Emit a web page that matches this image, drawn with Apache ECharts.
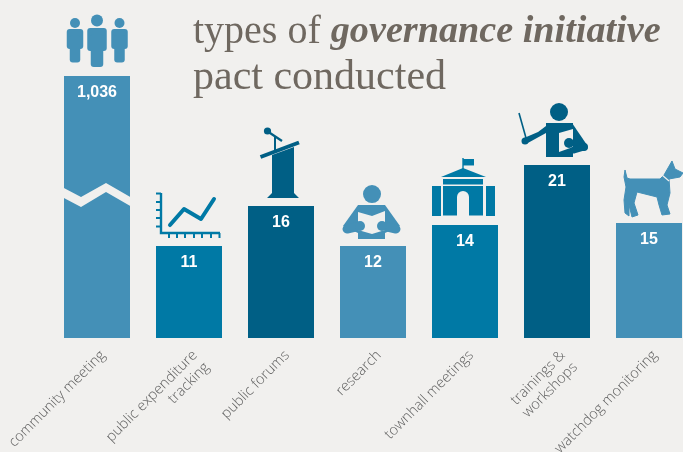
<!DOCTYPE html>
<html>
<head>
<meta charset="utf-8">
<style>html,body{margin:0;padding:0;background:#F1F0EE}#c{width:683px;height:452px}</style>
<script src="https://cdn.jsdelivr.net/npm/echarts@6/dist/echarts.min.js"></script>
</head>
<body>
<div id="c"></div>
<script>
const categories = ['community meeting','public expenditure\ntracking','public forums','research','townhall meetings','trainings &\nworkshops','watchdog monitoring'];
const valueLabels = ['1,036','11','16','12','14','21','15'];
// Heights as drawn in the picture (the first bar is cut by a break, so it is not to scale)
const drawnHeights = [31.76, 11.15, 16, 11.15, 13.7, 20.97, 13.94];
const barColors = ['#4490B7','#0079A5','#005F85','#4490B7','#0079A5','#005F85','#4490B7'];

const BG = '#F1F0EE';
const line = (pts, w, c) => ({type:'polyline', shape:{points:pts}, style:{stroke:c, lineWidth:w, lineCap:'round', lineJoin:'round', fill:null}});
const butt = (pts, w, c) => ({type:'polyline', shape:{points:pts}, style:{stroke:c, lineWidth:w, fill:null}});
const poly = (pts, c) => ({type:'polygon', shape:{points:pts}, style:{fill:c}});
const circ = (cx, cy, r, c) => ({type:'circle', shape:{cx, cy, r}, style:{fill:c}});
const rect = (x, y, w, h, c, r) => ({type:'rect', shape:{x, y, width:w, height:h, r:r||0}, style:{fill:c}});

function person(cx, headY, headR, bodyTop, bodyW, bodyBottom, legW, legBottom, c) {
  return [
    circ(cx, headY, headR, c),
    rect(cx-bodyW/2, bodyTop, bodyW, bodyBottom-bodyTop, c, 3),
    rect(cx-legW/2, bodyTop+6, legW, legBottom-bodyTop-6, c, 3)
  ];
}
// Icon artwork, each with the point of the bar (top centre) it hangs from
const icons = [
  {origin:[97,76], draw:c => [].concat(
    person(75,23,5,29,16.5,49,10.5,62.5,c),
    person(97,20.5,6,28,19.5,51,12.5,67,c),
    person(119.5,23,5,29,16.5,49,10.5,62.5,c),
    [poly([[62,187],[81,197],[106,183],[132,198],[132,207],[106,192],[81,207],[62,197]],BG)]
  )},
  {origin:[189,246], draw:c => {
    const parts = [butt([[161,193],[161,233],[220,233]],2.4,c)];
    [193.5,202,210,218,226.5].forEach(y => parts.push(butt([[156,y],[161,y]],2,c)));
    [169,177,185,194,202,211,219.5].forEach(x => parts.push(butt([[x,233],[x,238]],2,c)));
    parts.push(line([[170,225],[184,209],[201,219],[214,199]],4,c));
    return parts;
  }},
  {origin:[281,206], draw:c => [
    circ(267.5,131,3.6,c),
    butt([[267,131],[282,141]],2.2,c),
    butt([[275,136],[275,150]],2,c),
    butt([[260.5,157],[299,142.5]],4,c),
    poly([[272,155],[294,147],[294,193],[299,198],[267,198],[272,193]],c)
  ]},
  {origin:[373,246], draw:c => [
    circ(372,194,9,c),
    rect(358,205,27,34,c),
    poly([[358,205],[385,205],[400,226],[385,233],[358,233],[343,226]],c),
    line([[347,229],[360,226]],9,c),
    line([[396,229],[383,226]],9,c),
    poly([[358,212],[372,216],[385,211],[385,230],[372,234],[358,230]],BG),
    circ(360,226,5,c),
    circ(382,226,5,c)
  ]},
  {origin:[465,225], draw:c => [
    butt([[463,158],[463,170]],1.4,c),
    rect(463,159,11,6.5,c),
    poly([[441,177],[463,168],[486,177]],c),
    rect(443,179,40,5.5,c),
    rect(432,186,9,30,c),
    rect(486,186,9,30,c),
    rect(443,186,40,29.5,c),
    rect(457,197,12,19,BG),
    circ(463,197,6,BG)
  ]},
  {origin:[557,165], draw:c => [
    circ(559,112,9,c),
    rect(546,123,27,34,c),
    butt([[519,113],[526,138]],1.6,c),
    poly([[550,123],[546,133],[526,144],[524,138],[538,132]],c),
    circ(525,141,3.5,c),
    poly([[565,123],[572,123],[587,145],[584,151],[573,150]],c),
    circ(584,147,4,c),
    poly([[559,133],[573,129],[573,147],[559,152]],BG),
    circ(569,143,5,c),
    line([[574,150],[584,147]],7,c)
  ]},
  {origin:[649,223], draw:c => [
    {type:'polygon', shape:{points:[[625,170],[627,178],[630,179],[660,179],[664,175],[672,161],[675,169],[683,173],[680,177],[669,179],[670,193],[667,205],[670,214],[662,215],[659,205],[657,197],[637,192],[634,203],[638,215],[632,217],[629,205],[629,216],[625,213],[624,200],[626,187],[624,177]]},
     style:{fill:c, stroke:c, lineWidth:1, lineJoin:'round'}},
    butt([[662,175],[669,181]],1.2,BG)
  ]}
];

const chart = echarts.init(document.getElementById('c'));
chart.setOption({
  animation:false,
  backgroundColor:BG,
  title:{
    left:193, top:10, padding:0,
    text:'{a|types of }{b|governance initiative}\n{c|pact conducted}',
    textStyle:{
      fontWeight:'normal',
      rich:{
        a:{fontFamily:'Liberation Serif', fontSize:40, fontWeight:'normal', lineHeight:45, color:'#6F6860'},
        b:{fontFamily:'Liberation Serif', fontSize:38.2, lineHeight:45, color:'#6F6860', fontStyle:'italic', fontWeight:'bold'},
        c:{fontFamily:'Liberation Serif', fontSize:42, fontWeight:'normal', lineHeight:45, color:'#6F6860'}
      }
    }
  },
  grid:{left:51, width:644, top:41, height:297, containLabel:false, outerBoundsMode:'none'},
  xAxis:{
    type:'category', data:categories,
    axisLine:{show:false}, axisTick:{show:false},
    axisLabel:{interval:0, rotate:45, margin:9, verticalAlign:'top', fontFamily:'Open Sans', fontWeight:300, fontSize:14.5, lineHeight:17, color:'#5F5F5F', hideOverlap:false}
  },
  yAxis:{type:'value', min:0, max:36, show:false, splitLine:{show:false}},
  series:[
    {
      type:'bar', barWidth:66, silent:true,
      data:drawnHeights.map((v,i) => ({value:v, itemStyle:{color:barColors[i]}})),
      label:{
        show:true, position:'insideTop', distance:9,
        formatter:p => valueLabels[p.dataIndex],
        color:'#FFFFFF', fontFamily:'Liberation Sans', fontWeight:'bold', fontSize:16
      }
    },
    {
      type:'custom', silent:true, z:5,
      data:drawnHeights.map((v,i) => [i,v]),
      renderItem:(params, api) => {
        const i = api.value(0);
        const top = api.coord([i, api.value(1)]);
        const ic = icons[i];
        return {type:'group', x:top[0]-ic.origin[0], y:top[1]-ic.origin[1], children:ic.draw(barColors[i])};
      }
    }
  ]
});
</script>
</body>
</html>
